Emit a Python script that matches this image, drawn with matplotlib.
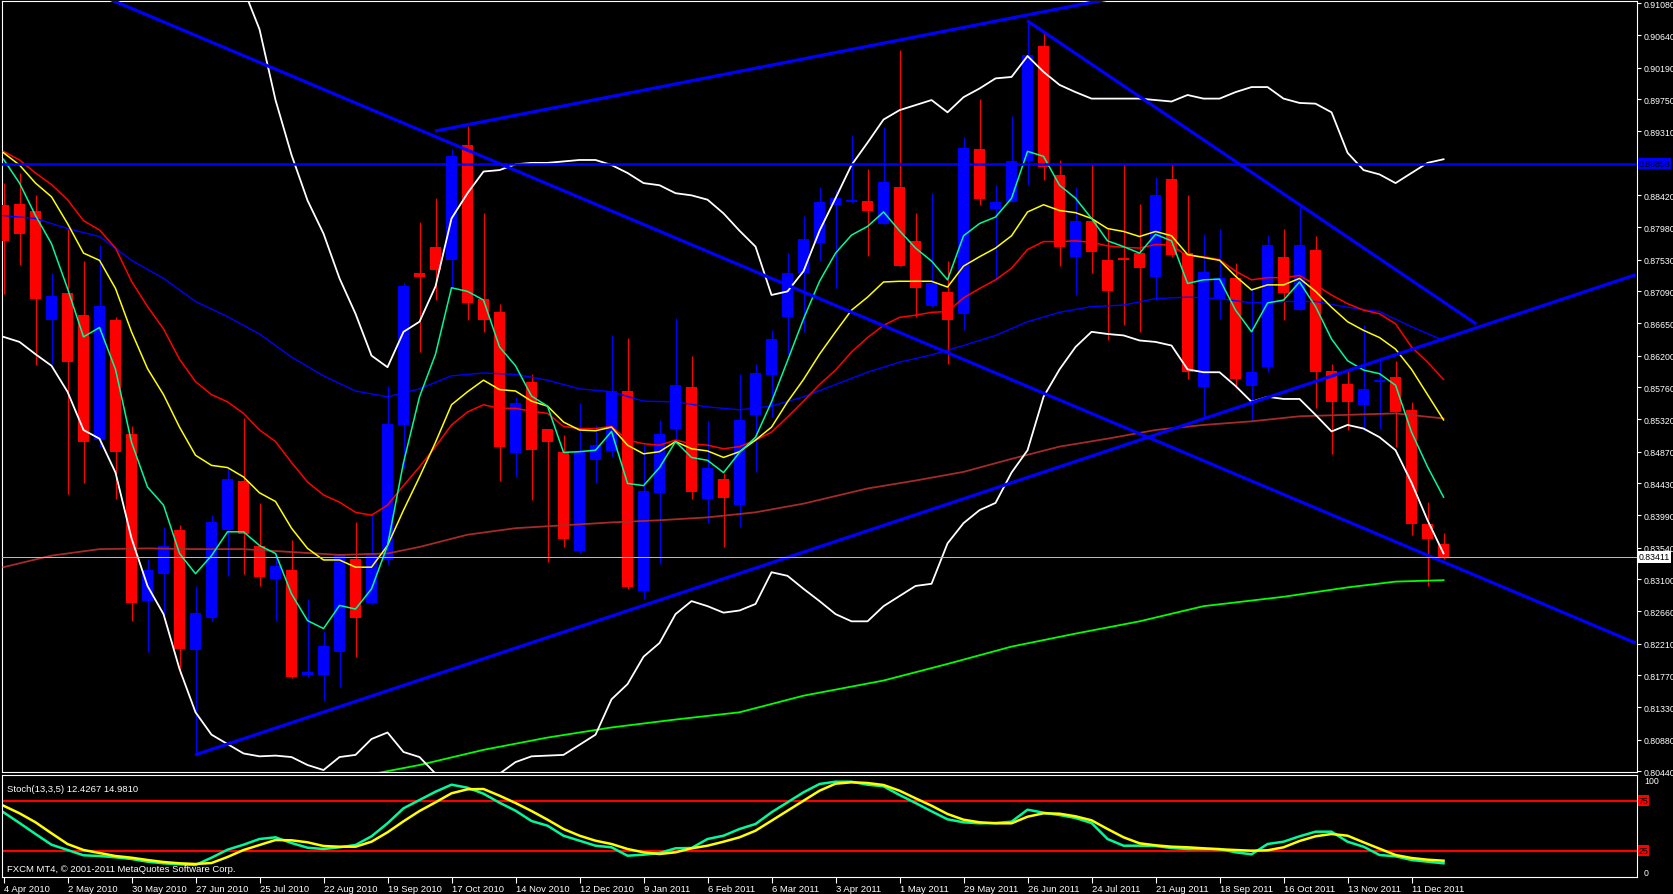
#!/usr/bin/env python3
"""Weekly candles with moving averages, bands, trend lines and a stochastic panel."""

import matplotlib
matplotlib.use("Agg")
import matplotlib.pyplot as plt  # type: ignore

W, H = 1674, 895

opens = [0.8828, 0.8830, 0.8820, 0.8670, 0.8707, 0.8676, 0.8503, 0.8669, 0.8512, 0.8280,
         0.8318, 0.8379, 0.8212, 0.8257, 0.8379, 0.8446, 0.8357, 0.8311, 0.8323, 0.8177,
         0.8177, 0.8210, 0.8339, 0.8278, 0.8337, 0.8524, 0.8734, 0.8771, 0.8753, 0.8912,
         0.8698, 0.8681, 0.8485, 0.8584, 0.8519, 0.8486, 0.8350, 0.8475, 0.8488, 0.8571,
         0.8294, 0.8430, 0.8519, 0.8577, 0.8422, 0.8449, 0.8413, 0.8538, 0.8593, 0.8674,
         0.8735, 0.8776, 0.8829, 0.8833, 0.8834, 0.8803, 0.8854, 0.8779, 0.8689, 0.8708,
         0.8678, 0.8906, 0.8823, 0.8833, 0.8889, 0.9049, 0.8870, 0.8757, 0.8807, 0.8752,
         0.8755, 0.8762, 0.8729, 0.8865, 0.8762, 0.8576, 0.8699, 0.8728, 0.8578, 0.8604,
         0.8757, 0.8683, 0.8766, 0.8599, 0.8581, 0.8552, 0.8584, 0.8591, 0.8545, 0.8387,
         0.8359]
highs = [0.8859, 0.8873, 0.8843, 0.8734, 0.8796, 0.8751, 0.8773, 0.8674, 0.8522, 0.8339,
         0.8383, 0.8385, 0.8301, 0.8399, 0.8465, 0.8533, 0.8416, 0.8346, 0.8364, 0.8283,
         0.8238, 0.8346, 0.8390, 0.8402, 0.8578, 0.8720, 0.8805, 0.8838, 0.8906, 0.8938,
         0.8817, 0.8692, 0.8563, 0.8594, 0.8519, 0.8510, 0.8554, 0.8524, 0.8648, 0.8645,
         0.8496, 0.8531, 0.8672, 0.8620, 0.8530, 0.8458, 0.8594, 0.8608, 0.8655, 0.8762,
         0.8814, 0.8854, 0.8849, 0.8926, 0.8879, 0.8937, 0.9043, 0.8817, 0.8845, 0.8751,
         0.8923, 0.8976, 0.8856, 0.8952, 0.9084, 0.9067, 0.8891, 0.8854, 0.8884, 0.8796,
         0.8884, 0.8830, 0.8868, 0.8884, 0.8843, 0.8789, 0.8795, 0.8748, 0.8713, 0.8787,
         0.8796, 0.8829, 0.8786, 0.8609, 0.8602, 0.8662, 0.8618, 0.8613, 0.8556, 0.8417,
         0.8374]
lows = [0.8706, 0.8746, 0.8607, 0.8608, 0.8428, 0.8444, 0.8493, 0.8421, 0.8252, 0.8210,
        0.8259, 0.8179, 0.8067, 0.8252, 0.8315, 0.8318, 0.8301, 0.8252, 0.8173, 0.8175,
        0.8142, 0.8161, 0.8202, 0.8276, 0.8330, 0.8465, 0.8625, 0.8697, 0.8714, 0.8669,
        0.8653, 0.8447, 0.8452, 0.8420, 0.8334, 0.8355, 0.8346, 0.8444, 0.8479, 0.8297,
        0.8283, 0.8332, 0.8503, 0.8422, 0.8388, 0.8355, 0.8383, 0.8459, 0.8535, 0.8622,
        0.8653, 0.8751, 0.8713, 0.8831, 0.8758, 0.8803, 0.8744, 0.8673, 0.8688, 0.8609,
        0.8655, 0.8828, 0.8725, 0.8833, 0.8857, 0.8863, 0.8744, 0.8704, 0.8734, 0.8642,
        0.8662, 0.8653, 0.8697, 0.8757, 0.8587, 0.8533, 0.8671, 0.8575, 0.8529, 0.8598,
        0.8669, 0.8683, 0.8547, 0.8484, 0.8517, 0.8517, 0.8519, 0.8493, 0.8371, 0.8301,
        0.8338]
closes = [0.8779, 0.8788, 0.8699, 0.8702, 0.8611, 0.8501, 0.8689, 0.8486, 0.8278, 0.8323,
          0.8357, 0.8214, 0.8263, 0.8390, 0.8449, 0.8373, 0.8314, 0.8329, 0.8175, 0.8182,
          0.8218, 0.8344, 0.8257, 0.8346, 0.8526, 0.8716, 0.8729, 0.8739, 0.8896, 0.8693,
          0.8669, 0.8494, 0.8554, 0.8489, 0.8500, 0.8366, 0.8486, 0.8496, 0.8571, 0.8299,
          0.8433, 0.8512, 0.8579, 0.8431, 0.8464, 0.8423, 0.8531, 0.8596, 0.8643, 0.8734,
          0.8782, 0.8833, 0.8838, 0.8836, 0.8820, 0.8861, 0.8744, 0.8713, 0.8720, 0.8669,
          0.8907, 0.8837, 0.8833, 0.8889, 0.9036, 0.8881, 0.8771, 0.8807, 0.8763, 0.8709,
          0.8752, 0.8742, 0.8843, 0.8760, 0.8598, 0.8736, 0.8728, 0.8588, 0.8598, 0.8773,
          0.8707, 0.8773, 0.8598, 0.8556, 0.8556, 0.8574, 0.8586, 0.8542, 0.8387, 0.8366,
          0.83411]

ma_fast = [0.8892, 0.8859, 0.8814, 0.8775, 0.8713, 0.8646, 0.8659, 0.8601, 0.8500, 0.8438,
           0.8413, 0.8346, 0.8318, 0.8343, 0.8376, 0.8376, 0.8357, 0.8346, 0.8290, 0.8253,
           0.8242, 0.8274, 0.8269, 0.8297, 0.8357, 0.8472, 0.8563, 0.8622, 0.8714, 0.8709,
           0.8697, 0.8632, 0.8606, 0.8564, 0.8550, 0.8486, 0.8487, 0.8489, 0.8515, 0.8443,
           0.8440, 0.8465, 0.8501, 0.8479, 0.8475, 0.8458, 0.8486, 0.8507, 0.8556, 0.8613,
           0.8671, 0.8723, 0.8762, 0.8787, 0.8799, 0.8819, 0.8793, 0.8769, 0.8751, 0.8725,
           0.8786, 0.8803, 0.8812, 0.8838, 0.8903, 0.8896, 0.8856, 0.8838, 0.8810, 0.8779,
           0.8771, 0.8762, 0.8788, 0.8779, 0.8720, 0.8725, 0.8726, 0.8683, 0.8653, 0.8693,
           0.8697, 0.8722, 0.8688, 0.8643, 0.8613, 0.8600, 0.8595, 0.8579, 0.8514, 0.8466,
           0.8424]
ma_yellow = [0.8901, 0.8884, 0.8859, 0.8840, 0.8803, 0.8762, 0.8752, 0.8713, 0.8653, 0.8602,
             0.8566, 0.8521, 0.8482, 0.8468, 0.8465, 0.8452, 0.8430, 0.8418, 0.8381, 0.8353,
             0.8337, 0.8337, 0.8327, 0.8327, 0.8357, 0.8406, 0.8452, 0.8500, 0.8552, 0.8570,
             0.8586, 0.8573, 0.8571, 0.8557, 0.8550, 0.8528, 0.8517, 0.8516, 0.8521, 0.8496,
             0.8484, 0.8487, 0.8501, 0.8491, 0.8488, 0.8479, 0.8487, 0.8503, 0.8521, 0.8556,
             0.8587, 0.8622, 0.8653, 0.8683, 0.8701, 0.8722, 0.8723, 0.8723, 0.8723, 0.8715,
             0.8744, 0.8757, 0.8769, 0.8786, 0.8819, 0.8829, 0.8821, 0.8818, 0.8810, 0.8796,
             0.8792, 0.8785, 0.8792, 0.8786, 0.8760, 0.8756, 0.8752, 0.8730, 0.8711, 0.8718,
             0.8718, 0.8727, 0.8709, 0.8687, 0.8667, 0.8655, 0.8645, 0.8629, 0.8601, 0.8566,
             0.8531]
ma_red = [0.8903, 0.8891, 0.8873, 0.8857, 0.8836, 0.8807, 0.8794, 0.8769, 0.8723, 0.8688,
          0.8657, 0.8615, 0.8584, 0.8566, 0.8556, 0.8540, 0.8517, 0.8501, 0.8472, 0.8445,
          0.8427, 0.8417, 0.8403, 0.8399, 0.8413, 0.8440, 0.8466, 0.8494, 0.8524, 0.8542,
          0.8552, 0.8547, 0.8547, 0.8543, 0.8540, 0.8522, 0.8519, 0.8519, 0.8522, 0.8503,
          0.8498, 0.8496, 0.8503, 0.8498, 0.8496, 0.8491, 0.8494, 0.8503, 0.8514, 0.8535,
          0.8557, 0.8580, 0.8600, 0.8625, 0.8645, 0.8662, 0.8673, 0.8676, 0.8680, 0.8681,
          0.8700, 0.8713, 0.8725, 0.8741, 0.8767, 0.8778, 0.8778, 0.8779, 0.8777, 0.8772,
          0.8770, 0.8769, 0.8774, 0.8773, 0.8758, 0.8757, 0.8753, 0.8737, 0.8725, 0.8728,
          0.8728, 0.8731, 0.8718, 0.8704, 0.8692, 0.8683, 0.8678, 0.8664, 0.8632, 0.8611,
          0.8587]

ma_blue_idx = list(range(0, 91, 2))
ma_blue = [0.8814, 0.8810, 0.8796, 0.8785, 0.8752, 0.8727, 0.8695, 0.8674, 0.8650, 0.8618,
           0.8592, 0.8571, 0.8563, 0.8574, 0.8592, 0.8596, 0.8594, 0.8586, 0.8574, 0.8570,
           0.8557, 0.8556, 0.8549, 0.8545, 0.8550, 0.8563, 0.8580, 0.8597, 0.8611, 0.8621,
           0.8634, 0.8648, 0.8667, 0.8680, 0.8688, 0.8690, 0.8699, 0.8701, 0.8699, 0.8693,
           0.8695, 0.8695, 0.8687, 0.8681, 0.8660, 0.8641]

ma_brown_idx = [0, 3, 6, 9, 12, 15, 18, 21, 24, 26, 29, 32, 35, 38, 41, 44, 47, 50, 54, 57,
                60, 63, 66, 69, 72, 75, 78, 81, 84, 87, 90]
ma_brown = [0.8327, 0.8343, 0.8352, 0.8353, 0.8352, 0.8352, 0.8348, 0.8344, 0.8346, 0.8355,
            0.8372, 0.8381, 0.8385, 0.8389, 0.8392, 0.8396, 0.8403, 0.8415, 0.8436, 0.8447,
            0.8459, 0.8477, 0.8494, 0.8505, 0.8517, 0.8524, 0.8529, 0.8536, 0.8538, 0.8540,
            0.8533]

ma_slow_idx = [22, 26, 30, 34, 38, 42, 46, 50, 55, 59, 63, 67, 71, 75, 80, 84, 87, 90]
ma_slow = [0.8036, 0.8053, 0.8074, 0.8091, 0.8105, 0.8116, 0.8126, 0.8149, 0.8170, 0.8193,
           0.8217, 0.8235, 0.8252, 0.8273, 0.8286, 0.8299, 0.8307, 0.8309]

band_upper_idx = list(range(14, 91))
band_upper = [0.9219, 0.9128, 0.9072, 0.8974, 0.8898, 0.8835, 0.8789, 0.8727, 0.8678, 0.8620,
              0.8604, 0.8653, 0.8667, 0.8716, 0.8810, 0.8845, 0.8875, 0.8877, 0.8885, 0.8887,
              0.8887, 0.8889, 0.8891, 0.8891, 0.8884, 0.8873, 0.8859, 0.8856, 0.8845, 0.8842,
              0.8836, 0.8817, 0.8793, 0.8771, 0.8704, 0.8709, 0.8737, 0.8793, 0.8838, 0.8884,
              0.8915, 0.8947, 0.8960, 0.8967, 0.8974, 0.8957, 0.8978, 0.8990, 0.9004, 0.9006,
              0.9035, 0.9013, 0.8995, 0.8985, 0.8976, 0.8976, 0.8976, 0.8976, 0.8974, 0.8972,
              0.8981, 0.8976, 0.8976, 0.8985, 0.8992, 0.8992, 0.8976, 0.8970, 0.8969, 0.8957,
              0.8901, 0.8877, 0.8871, 0.8859, 0.8873, 0.8887, 0.8892]
band_lower = [0.8646, 0.8639, 0.8622, 0.8606, 0.8570, 0.8517, 0.8505, 0.8458, 0.8367, 0.8301,
              0.8262, 0.8186, 0.8126, 0.8095, 0.8082, 0.8069, 0.8065, 0.8066, 0.8064, 0.8053,
              0.8046, 0.8064, 0.8067, 0.8089, 0.8098, 0.8071, 0.8064, 0.8041, 0.8022, 0.8018,
              0.8025, 0.8041, 0.8057, 0.8065, 0.8066, 0.8067, 0.8081, 0.8095, 0.8144, 0.8165,
              0.8203, 0.8222, 0.8262, 0.8280, 0.8273, 0.8264, 0.8267, 0.8276, 0.8320, 0.8315,
              0.8297, 0.8280, 0.8262, 0.8252, 0.8252, 0.8273, 0.8287, 0.8301, 0.8304, 0.8360,
              0.8388, 0.8406, 0.8416, 0.8458, 0.8489, 0.8563, 0.8601, 0.8632, 0.8653, 0.8650,
              0.8648, 0.8641, 0.8639, 0.8634, 0.8601, 0.8597, 0.8597, 0.8578, 0.8556, 0.8563,
              0.8560, 0.8560, 0.8538, 0.8515, 0.8524, 0.8519, 0.8507, 0.8489, 0.8444, 0.8392,
              0.8346]

stoch_main = [63.4, 52.7, 41.7, 31.0, 25.7, 20.4, 19.7, 18.4, 16.7, 14.0,
              12.4, 11.4, 10.7, 18.0, 26.0, 31.0, 36.7, 38.4, 32.7, 28.0,
              26.7, 28.4, 30.7, 39.4, 52.4, 67.4, 75.7, 84.0, 91.0, 88.0,
              82.0, 73.0, 65.0, 54.7, 50.0, 40.0, 35.0, 30.0, 28.4, 20.0,
              21.0, 22.7, 27.4, 27.7, 36.7, 40.0, 46.7, 51.7, 63.4, 73.4,
              83.4, 91.7, 94.0, 94.0, 91.0, 89.4, 80.7, 72.7, 64.4, 56.4,
              53.4, 52.4, 52.7, 54.0, 66.0, 63.0, 60.7, 57.7, 52.7, 36.7,
              30.0, 30.0, 29.7, 27.7, 26.7, 26.7, 26.7, 23.4, 21.4, 31.7,
              34.0, 39.4, 44.0, 44.0, 34.0, 29.0, 20.7, 19.4, 15.7, 14.0,
              12.4]
stoch_signal = [70.0, 62.4, 53.4, 42.4, 31.7, 25.7, 22.7, 19.7, 18.0, 15.7,
                13.7, 12.4, 11.7, 12.7, 18.7, 25.7, 30.7, 35.7, 35.4, 33.4,
                29.7, 29.0, 29.0, 34.0, 43.4, 54.4, 64.7, 73.4, 82.4, 86.4,
                86.7, 80.0, 72.7, 64.7, 56.0, 46.7, 40.0, 35.0, 31.7, 26.7,
                23.4, 21.7, 23.4, 27.4, 30.0, 34.0, 38.4, 45.0, 55.0, 65.0,
                75.0, 85.0, 92.0, 93.4, 92.7, 90.7, 85.0, 77.4, 70.0, 61.7,
                56.0, 53.4, 52.4, 52.4, 59.0, 62.4, 62.0, 59.4, 55.4, 46.7,
                38.4, 32.4, 30.4, 29.0, 28.4, 27.4, 26.4, 25.7, 25.0, 25.4,
                28.4, 34.7, 39.4, 41.7, 40.0, 33.4, 27.0, 20.7, 17.7, 16.0,
                15.0]

# trend lines drawn on the chart: (x0, x1), (y0, y1) in bar index / price
trend_x = [(6.5, 102.0), (26.97, 70.0), (63.97, 92.03), (11.97, 102.0)]
trend_y = [(0.9115, 0.8222), (0.8931, 0.9118), (0.9084, 0.8664), (0.8067, 0.8732)]
hline_price = 0.88858
bid_price = 0.83411

price_ticks = [0.91080, 0.90640, 0.90190, 0.89750, 0.89310, 0.88420, 0.87980, 0.87530,
               0.87090, 0.86650, 0.86200, 0.85760, 0.85320, 0.84870, 0.84430, 0.83990,
               0.83540, 0.83100, 0.82660, 0.82210, 0.81770, 0.81330, 0.80880, 0.80440]

date_idx = list(range(0, 89, 4))
date_labels = ["4 Apr 2010", "2 May 2010", "30 May 2010", "27 Jun 2010", "25 Jul 2010",
               "22 Aug 2010", "19 Sep 2010", "17 Oct 2010", "14 Nov 2010", "12 Dec 2010",
               "9 Jan 2011", "6 Feb 2011", "6 Mar 2011", "3 Apr 2011", "1 May 2011",
               "29 May 2011", "26 Jun 2011", "24 Jul 2011", "21 Aug 2011", "18 Sep 2011",
               "16 Oct 2011", "13 Nov 2011", "11 Dec 2011"]

FONT = "Liberation Sans"
FS = 6.8
FS_Y = 6.3
XLIM = (-0.094, 102.09)


def px_box(x0, y0, x1, y1):
    """Pixel rectangle (top-left origin) to figure fraction."""
    return [x0 / W, 1 - y1 / H, (x1 - x0) / W, (y1 - y0) / H]


def style_axes(ax):
    ax.set_facecolor("black")
    for spine in ax.spines.values():
        spine.set_color("white")
        spine.set_linewidth(0.8)
    ax.set_xlim(*XLIM)


def draw_candles(ax):
    n = len(opens)
    xs = list(range(n))
    up = [c >= o for o, c in zip(opens, closes)]
    colors = ["#0000ff" if u else "#ff0000" for u in up]
    ax.vlines(xs, lows, highs, colors=colors, linewidth=0.8, zorder=2)
    bottoms = [min(o, c) for o, c in zip(opens, closes)]
    heights = [max(abs(c - o), 0.00008) for o, c in zip(opens, closes)]
    ax.bar(xs, heights, bottom=bottoms, width=0.69, color=colors,
           linewidth=0, zorder=3)


def main():
    plt.rcParams["font.family"] = [FONT, "DejaVu Sans"]
    fig = plt.figure(figsize=(W / 100, H / 100), dpi=100, facecolor="black")

    ax = fig.add_axes(px_box(2, 2, 1637, 773))
    style_axes(ax)
    ax.set_ylim(0.80433, 0.91112)

    draw_candles(ax)
    xs = list(range(len(closes)))
    ax.plot(ma_blue_idx, ma_blue, color="#0000ff", lw=1.0, zorder=4)
    ax.plot(ma_brown_idx, ma_brown, color="#a52a2a", lw=1.3, zorder=4)
    ax.plot(ma_slow_idx, ma_slow, color="#00ff00", lw=1.3, zorder=4)
    ax.plot(band_upper_idx, band_upper, color="white", lw=1.3, zorder=4)
    ax.plot(xs, band_lower, color="white", lw=1.3, zorder=4)
    ax.plot(xs, ma_red, color="#ff0000", lw=1.1, zorder=5)
    ax.plot(xs, ma_yellow, color="#ffff00", lw=1.1, zorder=5)
    ax.plot(xs, ma_fast, color="#00fa9a", lw=1.1, zorder=6)

    for tx, ty in zip(trend_x, trend_y):
        ax.plot(tx, ty, color="#0000ff", lw=2.3, zorder=7, solid_capstyle="butt")
    ax.axhline(hline_price, color="#0000ff", lw=1.8, zorder=7)
    ax.axhline(bid_price, color="#c0c0c0", lw=0.7, zorder=7)

    ax.set_xticks([])
    ax.yaxis.tick_right()
    ax.set_yticks(price_ticks)
    ax.set_yticklabels([f"{p:.5f}" for p in price_ticks])
    ax.tick_params(axis="y", colors="white", labelcolor="white", labelsize=FS_Y,
                   length=3, width=0.8, pad=2)
    ytr = ax.get_yaxis_transform()
    ax.text(1.001, hline_price, f"{hline_price:.5f}", transform=ytr, fontsize=FS_Y,
            color="black", va="center", ha="left", zorder=10,
            bbox=dict(boxstyle="square,pad=0.12", fc="#0000ff", ec="none"))
    ax.text(1.001, bid_price, f"{bid_price:.5f}", transform=ytr, fontsize=FS_Y,
            color="black", va="center", ha="left", zorder=10,
            bbox=dict(boxstyle="square,pad=0.12", fc="white", ec="none"))

    sx = fig.add_axes(px_box(2, 776, 1637, 878))
    style_axes(sx)
    sx.set_ylim(-1.3, 100.7)
    sx.axhline(75, color="#ff0000", lw=1.6)
    sx.axhline(25, color="#ff0000", lw=1.6)
    sx.plot(xs, stoch_main, color="#00fa9a", lw=1.8)
    sx.plot(xs, stoch_signal, color="#ffff00", lw=1.8)
    sx.yaxis.tick_right()
    sx.set_yticks([96, 4])
    sx.set_yticklabels(["100", "0"])
    sx.tick_params(axis="y", colors="white", labelcolor="white", labelsize=FS_Y,
                   length=0, width=0.8, pad=5)
    str_ = sx.get_yaxis_transform()
    for lvl in (75, 25):
        sx.text(1.001, lvl, str(lvl), transform=str_, fontsize=FS_Y, color="black",
                va="center", ha="left",
                bbox=dict(boxstyle="square,pad=0.12", fc="#ff0000", ec="none"))
    sx.set_xticks(date_idx)
    sx.set_xticklabels(date_labels)
    sx.tick_params(axis="x", colors="white", labelcolor="white", labelsize=FS,
                   length=4, width=0.8, pad=1)
    for lab in sx.get_xticklabels():
        lab.set_ha("left")
    sx.text(0.003, 0.87, "Stoch(13,3,5) 12.4267 14.9810", transform=sx.transAxes,
            fontsize=FS, color="white", va="center", ha="left")
    sx.text(0.003, 0.08, "FXCM MT4, \u00a9 2001-2011 MetaQuotes Software Corp.",
            transform=sx.transAxes, fontsize=FS, color="white", va="center",
            ha="left")

    fig.savefig("out.png", dpi=100, facecolor="black")


if __name__ == "__main__":
    main()
